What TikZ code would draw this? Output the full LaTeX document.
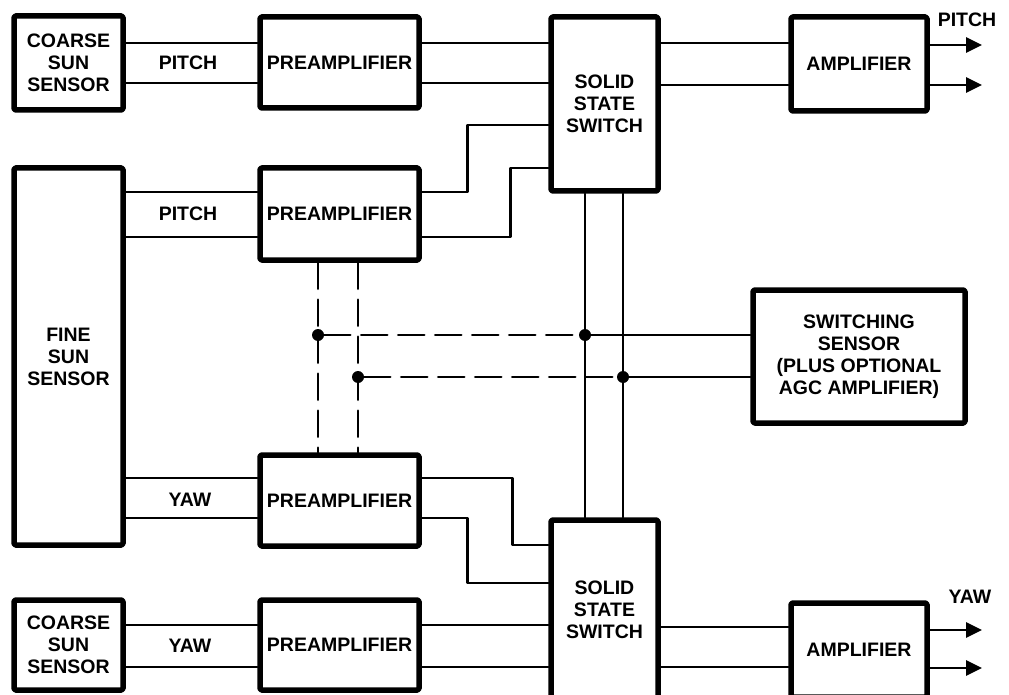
\documentclass[tikz,border=0pt]{standalone}
\usepackage{fontspec}
\setmainfont{Liberation Sans}
\usepackage{tikz}
\usetikzlibrary{arrows.meta,positioning}

\begin{document}
\begin{tikzpicture}[x=1pt,y=-1pt,line cap=round,line join=round,
  font=\fontsize{19.5}{22}\selectfont\bfseries,
  blk/.style={draw=black,line width=5.5pt,rounded corners=1.5pt,inner sep=0pt,align=center},
  wire/.style={line width=2.8pt},
  ctl/.style={line width=2.8pt,dash pattern=on 26pt off 11pt},
  tap/.style={circle,fill=black,inner sep=0pt,minimum size=12pt},
  outarrow/.style={line width=2.8pt,-{Triangle[length=16pt,width=15pt]}}]
\path[use as bounding box] (0,0) rectangle (1009,695);
\node[blk,minimum width=109pt,minimum height=94pt] (cs1) at (68.5,63) {COARSE\\SUN\\SENSOR};
\node[blk,minimum width=159pt,minimum height=91pt] (pa1) at (339.5,62.5) {PREAMPLIFIER};
\node[blk,minimum width=107pt,minimum height=174pt] (ss1) at (604.5,104) {SOLID\\STATE\\SWITCH};
\node[blk,minimum width=136pt,minimum height=94pt] (am1) at (859,64) {AMPLIFIER};
\node[blk,minimum width=109pt,minimum height=377pt] (fs) at (68.5,356.5) {FINE\\SUN\\SENSOR};
\node[blk,minimum width=159pt,minimum height=92pt] (pa2) at (339.5,214) {PREAMPLIFIER};
\node[blk,minimum width=212pt,minimum height=133pt] (sw) at (859,356.5) {SWITCHING\\SENSOR\\(PLUS OPTIONAL\\AGC AMPLIFIER)};
\node[blk,minimum width=159pt,minimum height=91pt] (pa3) at (339.5,500.5) {PREAMPLIFIER};
\node[blk,minimum width=107pt,minimum height=180pt] (ss2) at (604.5,610) {SOLID\\STATE\\SWITCH};
\node[blk,minimum width=109pt,minimum height=90pt] (cs2) at (68.5,645) {COARSE\\SUN\\SENSOR};
\node[blk,minimum width=159pt,minimum height=90pt] (pa4) at (339.5,645) {PREAMPLIFIER};
\node[blk,minimum width=136pt,minimum height=94pt] (am2) at (859,650) {AMPLIFIER};
\node (lp1) at (188,63) {PITCH};
\node (lp2) at (188,214) {PITCH};
\node (ly1) at (190,500) {YAW};
\node (ly2) at (190,646) {YAW};
\node (lpo) at (967,20) {PITCH};
\node (lyo) at (970,597) {YAW};
\node[tap] (d1) at (318,335) {};
\node[tap] (d2) at (358,377) {};
\node[tap] (d3) at (585,335) {};
\node[tap] (d4) at (623,377) {};
\coordinate (po1) at (982,45);
\coordinate (po2) at (982,85);
\coordinate (yo1) at (982,630);
\coordinate (yo2) at (982,668);
\foreach \y in {43,83} {
  \draw[wire] (cs1.east |- 0,\y) -- (pa1.west |- 0,\y);
  \draw[wire] (pa1.east |- 0,\y) -- (ss1.west |- 0,\y);
}
\foreach \y in {192,237} \draw[wire] (fs.east |- 0,\y) -- (pa2.west |- 0,\y);
\foreach \y in {478,518} \draw[wire] (fs.east |- 0,\y) -- (pa3.west |- 0,\y);
\foreach \y in {625,667} {
  \draw[wire] (cs2.east |- 0,\y) -- (pa4.west |- 0,\y);
  \draw[wire] (pa4.east |- 0,\y) -- (ss2.west |- 0,\y);
}
\draw[wire] (pa2.east |- 0,192) -- ++(46,0) |- (ss1.west |- 0,125);
\draw[wire] (pa2.east |- 0,237) -- ++(89,0) |- (ss1.west |- 0,168);
\draw[wire] (pa3.east |- 0,478) -- ++(91,0) |- (ss2.west |- 0,545);
\draw[wire] (pa3.east |- 0,518) -- ++(46,0) |- (ss2.west |- 0,583);
\draw[wire] (ss1.east |- 0,43) -- (am1.west |- 0,43);
\draw[wire] (ss1.east |- 0,85) -- (am1.west |- 0,85);
\draw[wire] (ss2.east |- 0,627) -- (am2.west |- 0,627);
\draw[wire] (ss2.east |- 0,667) -- (am2.west |- 0,667);
\draw[outarrow] (am1.east |- po1) -- (po1);
\draw[outarrow] (am1.east |- po2) -- (po2);
\draw[outarrow] (am2.east |- yo1) -- (yo1);
\draw[outarrow] (am2.east |- yo2) -- (yo2);
\draw[wire] (d3 |- ss1.south) -- (d3 |- ss2.north);
\draw[wire] (d4 |- ss1.south) -- (d4 |- ss2.north);
\draw[ctl] (d1 |- pa2.south) -- (d1 |- pa3.north);
\draw[ctl] (d2 |- pa2.south) -- (d2 |- pa3.north);
\draw[ctl] (d1) -- (d3);
\draw[ctl] (d2) -- (d4);
\draw[wire] (d3) -- (d3 -| sw.west);
\draw[wire] (d4) -- (d4 -| sw.west);
\end{tikzpicture}
\end{document}
